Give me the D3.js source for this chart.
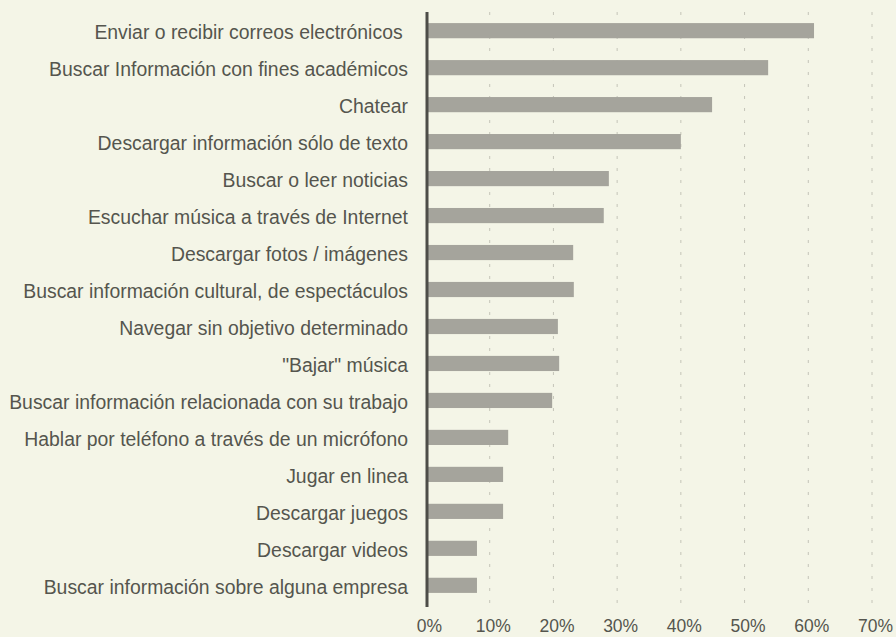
<!DOCTYPE html>
<html>
<head>
<meta charset="utf-8">
<script src="https://cdn.jsdelivr.net/npm/d3@7"></script>
<style>
  html, body { margin: 0; padding: 0; background: #f4f5e7; }
  svg { display: block; }
  .ylab text { white-space: pre; }
</style>
</head>
<body>
<svg id="chart" width="896" height="637"></svg>
<script>
const categories = [
  "Enviar o recibir correos electrónicos ",
  "Buscar Información con fines académicos",
  "Chatear",
  "Descargar información sólo de texto",
  "Buscar o leer noticias",
  "Escuchar música a través de Internet",
  "Descargar fotos / imágenes",
  "Buscar información cultural, de espectáculos",
  "Navegar sin objetivo determinado",
  "\"Bajar\" música",
  "Buscar información relacionada con su trabajo",
  "Hablar por teléfono a través de un micrófono",
  "Jugar en linea",
  "Descargar juegos",
  "Descargar videos",
  "Buscar información sobre alguna empresa"
];
const values = [60.9, 53.7, 44.9, 40.0, 28.7, 27.9, 23.1, 23.2, 20.7, 20.9, 19.8, 12.9, 12.1, 12.1, 8.0, 8.0];
const tickValues = [0, 10, 20, 30, 40, 50, 60, 70];

const svg = d3.select("#chart");
const x = d3.scaleLinear().domain([0, 70]).range([426, 872]);
const y = d3.scaleBand().domain(categories).range([12, 604]).paddingInner(0.59).paddingOuter(0.3);

// background
svg.append("rect").attr("width", 896).attr("height", 637).attr("fill", "#f4f5e7");

// gridlines
svg.append("g").selectAll("line")
  .data(tickValues.filter(d => d > 0))
  .join("line")
  .attr("x1", d => x(d)).attr("x2", d => x(d))
  .attr("y1", 12).attr("y2", 607)
  .attr("stroke", "#c4c4b8")
  .attr("stroke-width", 1)
  .attr("stroke-dasharray", "3,9");

// bars
svg.append("g").selectAll("rect")
  .data(values)
  .join("rect")
  .attr("x", x(0) + 2)
  .attr("y", (d, i) => y(categories[i]))
  .attr("width", d => x(d) - x(0) - 2)
  .attr("height", y.bandwidth())
  .attr("fill", "#a5a49c");

// vertical axis line
svg.append("line")
  .attr("x1", x(0) + 1).attr("x2", x(0) + 1)
  .attr("y1", 12).attr("y2", 607)
  .attr("stroke", "#4d4d48")
  .attr("stroke-width", 3);

// category labels
const yAxis = d3.axisLeft(y).tickSize(0).tickPadding(0);
const gy = svg.append("g").attr("class", "ylab").attr("transform", "translate(408,2)").call(yAxis);
gy.select(".domain").remove();
gy.selectAll("text")
  .attr("fill", "#55554e")
  .style("font-family", "'Liberation Sans', Arial, sans-serif")
  .style("font-size", "19.4px");

// x tick labels
const xAxis = d3.axisBottom(x).tickValues(tickValues).tickFormat(d => d + "%").tickSize(0).tickPadding(0);
const gx = svg.append("g").attr("transform", "translate(3,620)").call(xAxis);
gx.select(".domain").remove();
gx.selectAll("text")
  .attr("fill", "#55554e")
  .style("font-family", "'Liberation Sans', Arial, sans-serif")
  .style("font-size", "17.5px");
</script>
</body>
</html>
